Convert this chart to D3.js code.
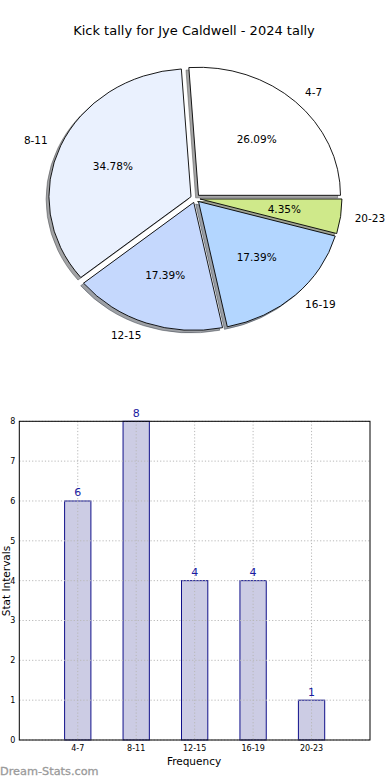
<!DOCTYPE html>
<html><head><meta charset="utf-8">
<script src="https://cdn.jsdelivr.net/npm/d3@7"></script>
<style>
html,body{margin:0;padding:0;background:#fff;}
svg{display:block;font-family:"DejaVu Sans",sans-serif;}
</style></head>
<body>
<script>
// ---- data ----
const title = "Kick tally for Jye Caldwell - 2024 tally";
const categories = ["4-7", "8-11", "12-15", "16-19", "20-23"];
const counts = [6, 8, 4, 4, 1];
const sliceColors = ["#ffffff", "#eaf1fe", "#c5d8fd", "#b3d6ff", "#cfe98a"];
const yTicks = [0, 1, 2, 3, 4, 5, 6, 7, 8];
const xLabel = "Frequency";
const yLabel = "Stat Intervals";
const watermark = "Dream-Stats.com";

const W = 390, H = 780;
const svg = d3.select("body").append("svg").attr("width", W).attr("height", H);

// ---- title ----
svg.append("text").attr("x", 194).attr("y", 34.5).attr("text-anchor", "middle")
  .attr("font-size", 13).attr("fill", "#000").text(title);

// ---- pie ----
const cx = 195.3, cy = 198.4, rx = 142, ry = 128, explode = 0.033;
const total = d3.sum(counts);
const pie = d3.pie().sort(null).value(d => d).startAngle(Math.PI / 2).endAngle(Math.PI / 2 - 2 * Math.PI);
const arcs = pie(counts);
const arc = d3.arc().innerRadius(0).outerRadius(1);
const pieG = svg.append("g");

function sliceInfo(a) {
  const mid = (a.startAngle + a.endAngle) / 2;
  const ux = Math.sin(mid), uy = -Math.cos(mid);
  return {ux, uy, ox: cx + explode * ux * rx, oy: cy + explode * uy * ry};
}
function darker(c) {
  const r = d3.rgb(c);
  return d3.rgb(r.r * 0.3, r.g * 0.3, r.b * 0.3).toString();
}
// shadows
arcs.forEach((a, i) => {
  const s = sliceInfo(a);
  pieG.append("path")
    .attr("d", arc(a))
    .attr("transform", `translate(${s.ox - 0.02 * rx},${s.oy + 0.02 * ry}) scale(${rx},${ry})`)
    .attr("fill", darker(sliceColors[i])).attr("fill-opacity", 0.5)
    .attr("stroke", darker(sliceColors[i])).attr("stroke-opacity", 0.5)
    .attr("stroke-width", 1).attr("vector-effect", "non-scaling-stroke");
});
// wedges
arcs.forEach((a, i) => {
  const s = sliceInfo(a);
  pieG.append("path")
    .attr("d", arc(a))
    .attr("transform", `translate(${s.ox},${s.oy}) scale(${rx},${ry})`)
    .attr("fill", sliceColors[i])
    .attr("stroke", "#000").attr("stroke-width", 0.9).attr("vector-effect", "non-scaling-stroke");
});
// labels
arcs.forEach((a, i) => {
  const s = sliceInfo(a);
  const lx = s.ox + 1.1 * s.ux * rx, ly = s.oy + 1.1 * s.uy * ry;
  pieG.append("text").attr("x", lx).attr("y", ly).attr("dy", "0.36em")
    .attr("text-anchor", s.ux > 0 ? "start" : "end")
    .attr("font-size", 10.5).attr("fill", "#000").text(categories[i]);
  const px = s.ox + 0.6 * s.ux * rx, py = s.oy + 0.6 * s.uy * ry;
  pieG.append("text").attr("x", px).attr("y", py).attr("dy", "0.36em")
    .attr("text-anchor", "middle")
    .attr("font-size", 10.5).attr("fill", "#000").text((counts[i] / total * 100).toFixed(2) + "%");
});

// ---- bar chart ----
const L = 19.3, R = 370, T = 421.3, B = 740;
const x = d3.scaleLinear().domain([-1, categories.length]).range([L, R]);
const y = d3.scaleLinear().domain([0, 8]).range([B, T]);
const barW = 0.45;
const bg = svg.append("g");

bg.selectAll("rect.bar").data(counts).join("rect").attr("class", "bar")
  .attr("x", (d, i) => x(i - barW / 2)).attr("width", x(barW) - x(0))
  .attr("y", d => y(d)).attr("height", d => y(0) - y(d))
  .attr("fill", "#ccccE4").attr("stroke", "#10108a").attr("stroke-width", 1);

// grid
bg.selectAll("line.gy").data(yTicks).join("line").attr("class", "gy")
  .attr("x1", L).attr("x2", R).attr("y1", d => y(d)).attr("y2", d => y(d))
  .attr("stroke", "#b8b8b8").attr("stroke-width", 1).attr("stroke-dasharray", "1.2,2");
bg.selectAll("line.gx").data(categories).join("line").attr("class", "gx")
  .attr("x1", (d, i) => x(i)).attr("x2", (d, i) => x(i)).attr("y1", T).attr("y2", B)
  .attr("stroke", "#b8b8b8").attr("stroke-width", 1).attr("stroke-dasharray", "1.2,2");

// frame
bg.append("rect").attr("x", L).attr("y", T).attr("width", R - L).attr("height", B - T)
  .attr("fill", "none").attr("stroke", "#000").attr("stroke-width", 1);

// y tick labels
bg.selectAll("text.yt").data(yTicks).join("text").attr("class", "yt")
  .attr("x", L - 4).attr("y", d => y(d)).attr("dy", "0.36em").attr("text-anchor", "end")
  .attr("font-size", 8).attr("fill", "#000").text(d => d);
// x tick labels
bg.selectAll("text.xt").data(categories).join("text").attr("class", "xt")
  .attr("x", (d, i) => x(i)).attr("y", B + 11).attr("text-anchor", "middle")
  .attr("font-size", 8).attr("fill", "#000").text(d => d);
// value labels
bg.selectAll("text.vl").data(counts).join("text").attr("class", "vl")
  .attr("x", (d, i) => x(i)).attr("y", d => y(d) - 4.5).attr("text-anchor", "middle")
  .attr("font-size", 11).attr("fill", "#1a1aa0").text(d => d);

// axis labels
bg.append("text").attr("x", 194).attr("y", 764.5).attr("text-anchor", "middle")
  .attr("font-size", 10.5).attr("fill", "#000").text(xLabel);
bg.append("text").attr("transform", "translate(9.5,581) rotate(-90)").attr("text-anchor", "middle")
  .attr("font-size", 10.5).attr("fill", "#000").text(yLabel);

// watermark
svg.append("text").attr("x", 0).attr("y", 774.5).attr("font-size", 11.3)
  .attr("fill", "#9a9a9a").attr("stroke", "#9a9a9a").attr("stroke-width", 0.3).text(watermark);
</script>
</body></html>
